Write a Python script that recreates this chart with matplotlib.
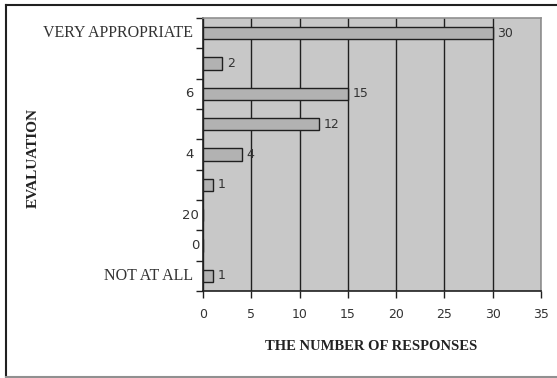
import matplotlib.pyplot as plt
from matplotlib.lines import Line2D
from matplotlib.ticker import NullLocator

categories = ["VERY APPROPRIATE", "", "6", "", "4", "", "20", "0", "NOT AT ALL"]
responses = [30, 2, 15, 12, 4, 1, 0, 0, 1]
show_value = [True, True, True, True, True, True, False, False, True]
xticks = [0, 5, 10, 15, 20, 25, 30, 35]

W, H = 557, 378
fig = plt.figure(figsize=(W / 100, H / 100), dpi=100)
fig.patch.set_facecolor('white')

# plot area in pixel coordinates
left, right, top, bottom = 203, 541, 18, 291
ax = fig.add_axes([left / W, 1 - bottom / H, (right - left) / W, (bottom - top) / H])
ax.set_facecolor('#c8c8c8')

n = len(categories)
ypos = list(range(n))
ax.barh(ypos, responses, height=0.4, color='#b2b2b2', edgecolor='#202020',
        linewidth=1.0, zorder=3)
for y, v, s in zip(ypos, responses, show_value):
    if s:
        ax.text(v + 0.5, y, str(v), va='center', ha='left', fontsize=9,
                family='DejaVu Sans', color='#333333', zorder=4)

ax.set_xlim(0, 35)
ax.set_ylim(n - 0.5, -0.5)
ax.set_xticks(xticks)
ax.set_xticklabels([str(t) for t in xticks], family='DejaVu Sans', fontsize=9,
                   color='#333333')
ax.tick_params(axis='x', direction='out', length=5, width=1, color='#202020', pad=7)

# category labels shown only on every other row, ticks at row boundaries
ax.set_yticks([i - 0.5 for i in range(n + 1)])
ax.yaxis.set_minor_locator(NullLocator())
ax.xaxis.set_minor_locator(NullLocator())
ax.set_yticklabels([])
ax.tick_params(axis='y', direction='out', length=5, width=1, color='#202020')
for y, lab in zip(ypos, categories):
    if not lab:
        continue
    if lab.isdigit():
        off = -1.0 if len(lab) == 1 and y < 6 else -0.4
        ax.text(off, y, lab, ha='right', va='center', fontsize=9.5,
                family='DejaVu Sans', color='#333333')
    else:
        ax.text(-1.0, y, lab, ha='right', va='center', fontsize=11.5,
                family='Liberation Serif', color='#333333')

ax.grid(axis='x', color='#202020', linewidth=1.0, zorder=0)
ax.set_axisbelow(True)
ax.spines['left'].set_color('#202020')
ax.spines['bottom'].set_color('#202020')
ax.spines['top'].set_color('#909090')
ax.spines['right'].set_color('#909090')
for s in ax.spines.values():
    s.set_linewidth(1.2)

fig.text(371 / W, 1 - 346 / H, 'THE NUMBER OF RESPONSES', ha='center', va='center',
         fontsize=10.5, fontweight='bold', family='Liberation Serif', color='#222222')
fig.text(33 / W, 1 - 158 / H, 'EVALUATION', ha='center', va='center', rotation=90,
         fontsize=11, fontweight='bold', family='Liberation Serif', color='#222222')

# outer chart frame (open on the right where the chart runs off)
fx0, fy0, fy1 = 6 / W, 1 - 5 / H, 1 - 377 / H
fig.add_artist(Line2D([fx0, 1], [fy0, fy0], transform=fig.transFigure,
                      color='#202020', linewidth=1.5))
fig.add_artist(Line2D([fx0, fx0], [fy0, fy1], transform=fig.transFigure,
                      color='#202020', linewidth=1.5))
fig.add_artist(Line2D([fx0, 1], [fy1, fy1], transform=fig.transFigure,
                      color='#909090', linewidth=1.5))

fig.savefig('out.png', dpi=100)
